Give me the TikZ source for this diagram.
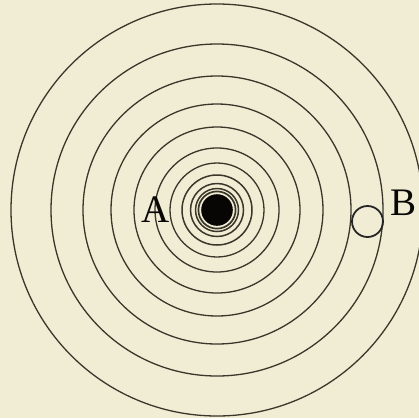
\documentclass[tikz,border=0pt]{standalone}
\usepackage{fontspec}
\setmainfont{Liberation Serif}
\definecolor{paper}{RGB}{241,237,212}
\definecolor{ink}{RGB}{58,54,42}
\begin{document}
\begin{tikzpicture}[x=1pt,y=-1pt,
  ring/.style={draw=ink,line width=1.3pt},
  lbl/.style={inner sep=0pt,font=\fontsize{39}{42}\selectfont,text=black!85!ink}]
\useasboundingbox (0,0) rectangle (419,418);
\fill[paper] (0,0) rectangle (419,418);
\begin{scope}
\clip (0,0) rectangle (419,418);
\coordinate (O) at (217,210);
\foreach \r in {206,166,134,106,83,62,47}
  \draw[ring] (O) circle[radius=\r];
\foreach \r in {35,26.5,21.5}
  \draw[ring,line width=1.5pt] (O) circle[radius=\r];
\draw[ring,line width=1.7pt] (O) circle[radius=18.6];
\fill[black!88!ink] (O) circle[radius=15.8];
\node[draw=black!85,line width=1.8pt,fill=none,circle,minimum size=31pt,inner sep=0pt] (b) at (367.5,221.5) {};
\node[lbl] (A) at (156,209.5) {A};
\node[lbl] (B) at (403,203) {B};
\end{scope}
\end{tikzpicture}
\end{document}
